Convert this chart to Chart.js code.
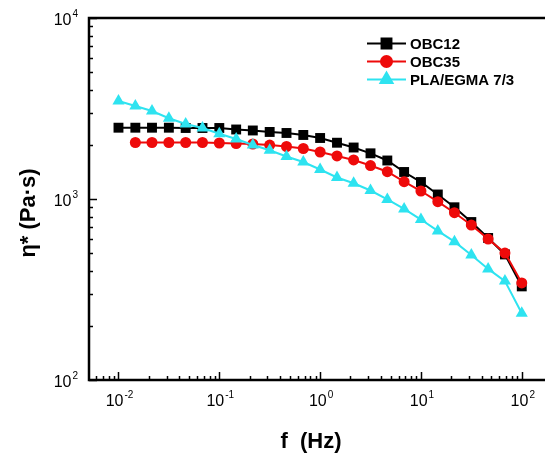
<!DOCTYPE html>
<html>
<head>
<meta charset="utf-8">
<script src="https://cdn.jsdelivr.net/npm/chart.js@4"></script>
<style>
	html, body { margin: 0; padding: 0; background: #fff; }
	#wrap { width: 545px; height: 457px; }
</style>
</head>
<body>
<div id="wrap"><canvas id="viscosity" width="545" height="457"></canvas></div>
<script>
	// frequency sweep, Hz
	let freq = [0.01, 0.0147, 0.0215, 0.0316, 0.0464, 0.0681, 0.1, 0.147, 0.215, 0.316, 0.464, 0.681,
		1, 1.47, 2.15, 3.16, 4.64, 6.81, 10, 14.7, 21.5, 31.6, 46.4, 68.1, 100];
	// complex viscosity, Pa.s
	let obc12 = [2477, 2477, 2477, 2477, 2468, 2468, 2468, 2421, 2391, 2346, 2316, 2258,
		2173, 2046, 1925, 1788, 1632, 1410, 1241, 1059, 900, 746, 609, 494, 329];
	let obc35 = [null, 2052, 2052, 2052, 2052, 2052, 2039, 2026, 2013, 1987, 1950, 1901,
		1818, 1729, 1643, 1531, 1415, 1246, 1107, 967, 840, 718, 601, 503, 344];
	let plaEgma = [3478, 3265, 3064, 2792, 2597, 2468, 2295, 2145, 1987, 1858, 1717, 1601,
		1455, 1315, 1221, 1114, 994, 881, 770, 666, 581, 491, 411, 352, 234];
	let seriesNames = ['OBC12', 'OBC35', 'PLA/EGMA 7/3'];
	let xDecades = [-2, -1, 0, 1, 2];
	let yDecades = [2, 3, 4];

	let toPoints = (vals) => freq.map((f, i) => ({x: f, y: vals[i]}));

	let drawPower = (c, exp, x, y, align) => {
		c.font = '16px "Liberation Sans", Arial, sans-serif';
		let base = c.measureText('10').width;
		c.font = '10px "Liberation Sans", Arial, sans-serif';
		let sup = c.measureText(String(exp)).width;
		let start = align === 'right' ? x - base - sup - 1 : x - (base + sup + 1) / 2;
		c.textAlign = 'left';
		c.textBaseline = 'alphabetic';
		c.font = '16px "Liberation Sans", Arial, sans-serif';
		c.fillText('10', start, y);
		c.font = '10px "Liberation Sans", Arial, sans-serif';
		c.fillText(String(exp), start + base + 1, y - 8);
	};

	let axes = {
		id: 'axes',
		beforeDatasetsDraw: (chart) => {
			let c = chart.ctx;
			let a = chart.chartArea;
			let xs = chart.scales.x;
			let ys = chart.scales.y;
			c.save();
			c.strokeStyle = '#000';
			c.fillStyle = '#000';
			c.lineWidth = 1.5;
			// inward ticks
			for (let e = -3; e <= 2; e++) {
				for (let m = 1; m < 10; m++) {
					let v = m * Math.pow(10, e);
					if (v < xs.min || v > xs.max) continue;
					let px = Math.round(xs.getPixelForValue(v)) + 0.5;
					c.beginPath();
					c.moveTo(px, a.bottom);
					c.lineTo(px, a.bottom - (m === 1 ? 8 : 4));
					c.stroke();
				}
			}
			for (let e = 2; e <= 4; e++) {
				for (let m = 1; m < 10; m++) {
					let v = m * Math.pow(10, e);
					if (v < ys.min || v > ys.max) continue;
					let py = Math.round(ys.getPixelForValue(v)) + 0.5;
					c.beginPath();
					c.moveTo(a.left, py);
					c.lineTo(a.left + (m === 1 ? 8 : 4), py);
					c.stroke();
				}
			}
			// frame: left, top, bottom (right side is cut off in the original)
			c.lineWidth = 2.5;
			c.beginPath();
			c.moveTo(chart.width, a.top);
			c.lineTo(a.left, a.top);
			c.lineTo(a.left, a.bottom);
			c.lineTo(chart.width, a.bottom);
			c.stroke();
			// tick labels
			for (let e of xDecades) {
				drawPower(c, e, xs.getPixelForValue(Math.pow(10, e)) + 1, a.bottom + 26, 'center');
			}
			for (let e of yDecades) {
				drawPower(c, e, a.left - 11, ys.getPixelForValue(Math.pow(10, e)) + 7, 'right');
			}
			// titles
			c.font = 'bold 22px "Liberation Sans", Arial, sans-serif';
			c.textAlign = 'center';
			c.textBaseline = 'alphabetic';
			c.fillText('f  (Hz)', 311, 448);
			c.translate(35, 213);
			c.rotate(-Math.PI / 2);
			c.fillText('\u03b7* (Pa\u00b7s)', 0, 0);
			c.restore();
		}
	};

	let legendBox = {
		id: 'legendBox',
		afterDraw: (chart) => {
			let c = chart.ctx;
			c.save();
			chart.data.datasets.forEach((ds, i) => {
				let y = 43.5 + i * 18;
				c.strokeStyle = ds.borderColor;
				c.lineWidth = ds.borderWidth;
				c.beginPath();
				c.moveTo(367, y);
				c.lineTo(406, y);
				c.stroke();
				Chart.helpers.drawPoint(c, {
					pointStyle: ds.pointStyle,
					radius: ds.pointRadius,
					borderWidth: 1
				}, 386.5, y);
				c.fillStyle = ds.backgroundColor;
				c.fill();
				c.fillStyle = '#000';
				c.font = 'bold 15px "Liberation Sans", Arial, sans-serif';
				c.textAlign = 'left';
				c.textBaseline = 'middle';
				c.fillText(ds.label, 410, y + 1);
			});
			c.restore();
		}
	};

	let ctx = document.getElementById('viscosity').getContext('2d');
	let myChart = new Chart(ctx, {
		type: 'line',
		data: {
			datasets: [{
				label: seriesNames[0],
				data: toPoints(obc12),
				borderColor: '#000000',
				backgroundColor: '#000000',
				borderWidth: 2,
				pointStyle: 'rect',
				pointRadius: 7,
				pointBorderWidth: 0,
				order: 3
			}, {
				label: seriesNames[1],
				data: toPoints(obc35),
				borderColor: '#ee0a0a',
				backgroundColor: '#ee0a0a',
				borderWidth: 2,
				pointStyle: 'circle',
				pointRadius: 5.5,
				pointBorderWidth: 0,
				order: 2
			}, {
				label: seriesNames[2],
				data: toPoints(plaEgma),
				borderColor: '#2ee3f0',
				backgroundColor: '#2ee3f0',
				borderWidth: 2,
				pointStyle: 'triangle',
				pointRadius: 7,
				pointBorderWidth: 0,
				order: 1
			}]
		},
		options: {
			responsive: false,
			animation: false,
			devicePixelRatio: 1,
			layout: {
				autoPadding: false,
				padding: {left: 89, top: 18, right: 0, bottom: 77}
			},
			scales: {
				x: {type: 'logarithmic', min: 0.0051, max: 170, display: false},
				y: {type: 'logarithmic', min: 100, max: 10000, display: false}
			},
			plugins: {
				legend: {display: false},
				tooltip: {enabled: false}
			}
		},
		plugins: [axes, legendBox]
	});
</script>
</body>
</html>
